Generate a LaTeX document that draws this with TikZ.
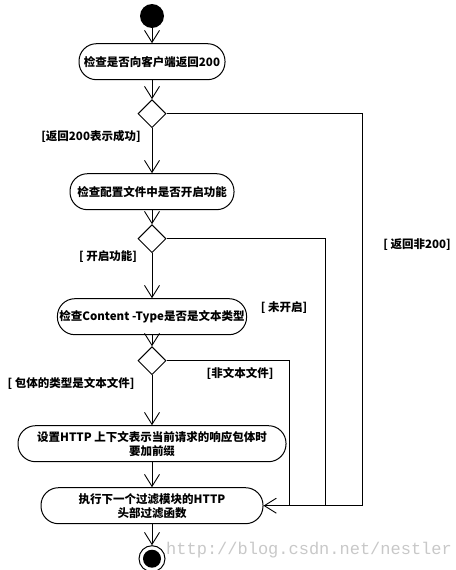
\documentclass[tikz,border=0pt]{standalone}
\usepackage{fontspec}
\setmainfont{Noto Sans CJK SC}
\newfontfamily\markfont{Liberation Mono}
\usepackage{tikz}
\usetikzlibrary{shapes.geometric, arrows.meta, positioning}
\definecolor{markgray}{HTML}{C8C8C8}
\tikzstyle{actbox} = [rectangle, rounded corners=17.5pt, minimum height=36pt, inner sep=2pt,
  align=center, draw=black, line width=1pt, font=\fontsize{11.5}{14}\selectfont\bfseries]
\tikzstyle{choice} = [diamond, draw=black, line width=1pt, minimum width=28pt, minimum height=28pt, inner sep=0pt]
\tikzstyle{guard} = [font=\fontsize{11.5}{14}\selectfont\bfseries, inner sep=0pt]
\tikzstyle{flow} = [line width=0.9pt]
\tikzstyle{arrow} = [line width=0.9pt, -{Straight Barb[length=12pt, width=15pt]}]

\begin{document}
\begin{tikzpicture}[x=1pt, y=1pt]
  \useasboundingbox (0,0) rectangle (455,-570);

  % Start
  \node (start) [circle, fill=black, minimum size=24pt, inner sep=0pt] at (152,-16) {};
  \node (ret) [actbox, minimum width=146pt, below=15pt of start] {检查是否向客户端返回200};
  \node (d1) [choice, below=19pt of ret] {};

  % Config check
  \node (conf) [actbox, minimum width=164pt, below=45pt of d1] {检查配置文件中是否开启功能};
  \node (d2) [choice, below=14pt of conf] {};

  % Content-Type check
  \node (ctype) [actbox, minimum width=185pt, below=45pt of d2] {检查Content -Type是否是文本类型};
  \node (d3) [choice, below=11pt of ctype] {};

  % Prefix and next filter
  \node (prefix) [actbox, minimum width=268pt, below=50pt of d3]
    {设置HTTP 上下文表示当前请求的响应包体时\\要加前缀};
  \node (next) [actbox, minimum width=222pt, below=25pt of prefix]
    {执行下一个过滤模块的HTTP\\头部过滤函数};

  % End
  \node (stop) [circle, draw=black, fill=white, line width=1pt, minimum size=26pt, inner sep=0pt, below=21pt of next] {};
  \node (stopdot) [circle, fill=black, minimum size=18pt, inner sep=0pt] at (stop) {};

  % Join points
  \coordinate [right=99pt of next.east] (j1);
  \coordinate [right=62pt of next.east] (j2);
  \coordinate [right=26pt of next.east] (j3);

  % Guards
  \node (g1) [guard] at (91,-136) {[返回200表示成功]};
  \node (g2) [guard] at (108,-257) {[ 开启功能]};
  \node (g3) [guard] at (71,-384) {[ 包体的类型是文本文件]};
  \node (g4) [guard] at (240,-374) {[非文本文件]};
  \node (g5) [guard] at (284,-308) {[ 未开启]};
  \node (g6) [guard] at (417,-245) {[ 返回非200]};

  \node (mark) [font=\markfont\fontsize{17}{17}\selectfont, text=markgray, anchor=west, inner sep=0pt] at (166,-550)
    {http://blog.csdn.net/nestler};

  \draw[arrow] (start) -- (ret);
  \draw[arrow] (ret) -- (d1.north);
  \draw[arrow] (d1) -- (conf);
  \draw[arrow] (conf) -- (d2.north);
  \draw[arrow] (d2) -- (ctype);
  \draw[arrow] (ctype) -- (d3.north);
  \draw[arrow] (d3) -- (prefix);
  \draw[arrow] (prefix) -- (next);
  \draw[arrow] (next) -- (stop);
  \draw[flow] (d1.east) -| (j1);
  \draw[flow] (d2.east) -| (j2);
  \draw[flow] (d3.east) -| (j3);
  \draw[arrow] (j1) -- (next.east);
\end{tikzpicture}
\end{document}
